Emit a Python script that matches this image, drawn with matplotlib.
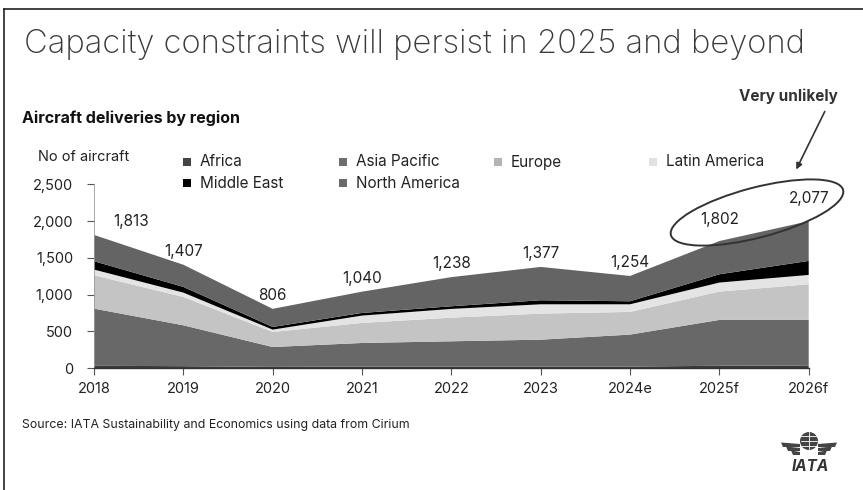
import matplotlib
matplotlib.use("Agg")
import matplotlib.pyplot as plt
import numpy as np
from matplotlib.patches import Ellipse, Rectangle, Circle, Polygon, FancyArrowPatch
from matplotlib.transforms import IdentityTransform

plt.rcParams['font.family'] = ['Inter', 'DejaVu Sans']

# ---- data ----
years = ['2018', '2019', '2020', '2021', '2022', '2023', '2024e', '2025f', '2026f']
totals = [1813, 1407, 806, 1040, 1238, 1377, 1254, 1802, 2077]

regions = ['Africa', 'Asia Pacific', 'Europe', 'Latin America', 'Middle East', 'North America']
africa = [30, 25, 15, 20, 20, 20, 20, 30, 35]
asia_pacific = [779, 557, 271, 321, 344, 366, 435, 625, 620]
europe = [455, 386, 205, 273, 322, 355, 309, 386, 486]
latin_america = [77, 59, 32, 100, 119, 127, 104, 123, 127]
middle_east = [114, 78, 36, 36, 36, 55, 41, 113, 191]
north_america = [358, 302, 247, 290, 397, 454, 345, 453, 541]

colors = ['#3a3a3a', '#686868', '#c4c4c4', '#e4e4e4', '#000000', '#646464']
legend_colors = ['#444444', '#6e6e6e', '#b4b4b4', '#e2e2e2', '#000000', '#6a6a6a']

W, H = 863, 490
fig = plt.figure(figsize=(W / 100, H / 100), dpi=100)

# axes placed in pixel terms
x0, x1 = 94, 808.7
y0, y1 = 368, 184.5
ax = fig.add_axes([x0 / W, (H - y0) / H, (x1 - x0) / W, (y0 - y1) / H])

x = np.arange(len(years))
ax.stackplot(x, africa, asia_pacific, europe, latin_america, middle_east, north_america,
             colors=colors, linewidth=0)

ax.set_xlim(0, len(years) - 1)
ax.set_ylim(0, 2500)
ax.set_xticks(x)
ax.set_xticklabels(years, fontsize=10.5, color='#222222')
ax.set_yticks(np.arange(0, 2501, 500))
ax.set_yticklabels(['{:,}'.format(v) for v in range(0, 2501, 500)], fontsize=10.5, color='#222222')
ax.tick_params(axis='both', length=5, width=0.8, color='#555555')
ax.tick_params(axis='y', pad=10)
ax.tick_params(axis='x', pad=5)
for s in ['top', 'right']:
    ax.spines[s].set_visible(False)
ax.spines['left'].set_color('#999999')
ax.spines['left'].set_linewidth(0.6)
ax.spines['bottom'].set_color('#333333')
ax.spines['bottom'].set_linewidth(1.0)

# total labels above each year
for i, t in enumerate(totals):
    dx = 27 if i == 0 else 0
    dy = 12 if i >= 7 else 9.5
    ax.annotate('{:,}'.format(t), xy=(i, t), xytext=(dx, dy), textcoords='offset points',
                ha='center', va='center', fontsize=11, color='#222222', annotation_clip=False)

pix = IdentityTransform()

# ellipse around forecast labels
fig.add_artist(Ellipse((757, H - 212.5), 178, 50, angle=14.7, fill=False,
                       edgecolor='#333333', linewidth=1.4, transform=pix))
# arrow from "Very unlikely"
fig.add_artist(FancyArrowPatch((826, H - 109), (795, H - 172), arrowstyle='-|>',
                               mutation_scale=9, color='#333333', linewidth=1.2,
                               transform=pix))

# texts
fig.text(24 / W, 1 - 45 / H, 'Capacity constraints will persist in 2025 and beyond',
         fontsize=23.6, color='#3a3a3a', va='center', ha='left', fontweight='light')
fig.text(22 / W, 1 - 118 / H, 'Aircraft deliveries by region', fontsize=11.5,
         fontweight='bold', color='#111111', va='center')
fig.text(788 / W, 1 - 96 / H, 'Very unlikely', fontsize=11, fontweight='bold',
         color='#333333', va='center', ha='center')
fig.text(38 / W, 1 - 157 / H, 'No of aircraft', fontsize=10.5, color='#222222', va='center')
fig.text(22 / W, 1 - 425 / H, 'Source: IATA Sustainability and Economics using data from Cirium',
         fontsize=8.9, color='#222222', va='center')

# legend, laid out like the original (4 columns, 2 rows)
col_x = [187, 343, 498, 653]
row_y = [162, 183]
order = [(0, 0), (0, 1), (0, 2), (0, 3), (1, 0), (1, 1)]
for k, (r, c) in enumerate(order):
    px, py = col_x[c], row_y[r]
    fig.add_artist(Rectangle((px - 4, H - py - 4), 8, 8, facecolor=legend_colors[k],
                             edgecolor='none', transform=pix))
    fig.text((px + 13) / W, 1 - py / H, regions[k], fontsize=11, color='#222222', va='center')

# border lines (left and top)
fig.add_artist(plt.Line2D([4 / W, 4 / W], [0, 1 - 9 / H], color='#222222', linewidth=1.2))
fig.add_artist(plt.Line2D([4 / W, 1], [1 - 9 / H, 1 - 9 / H], color='#222222', linewidth=1.2))

# small IATA mark
gx, gy = 809, H - 441
fig.add_artist(Circle((gx, gy), 9, facecolor='#444444', edgecolor='none', transform=pix))
for dy in (-5, 0, 5):
    fig.add_artist(plt.Line2D([gx - 8, gx + 8], [gy + dy, gy + dy], color='white',
                              linewidth=0.6, transform=pix))
fig.add_artist(plt.Line2D([gx, gx], [gy - 9, gy + 9], color='white', linewidth=0.6, transform=pix))
for side in (-1, 1):
    for j, dy in enumerate((0, 4, 8)):
        inner = gx + side * 9
        outer = gx + side * (28 - j * 5)
        fig.add_artist(Polygon([(inner, gy - 3 - dy), (outer, gy - 3 - dy + 1.5),
                                (outer - side * 2, gy - 6 - dy), (inner, gy - 6 - dy)],
                               closed=True, facecolor='#444444', edgecolor='none', transform=pix))
fig.text(810 / W, 1 - 466 / H, 'IATA', fontsize=11, fontweight='bold', style='italic',
         color='#333333', ha='center', va='center')

fig.savefig('out.png', dpi=100)
